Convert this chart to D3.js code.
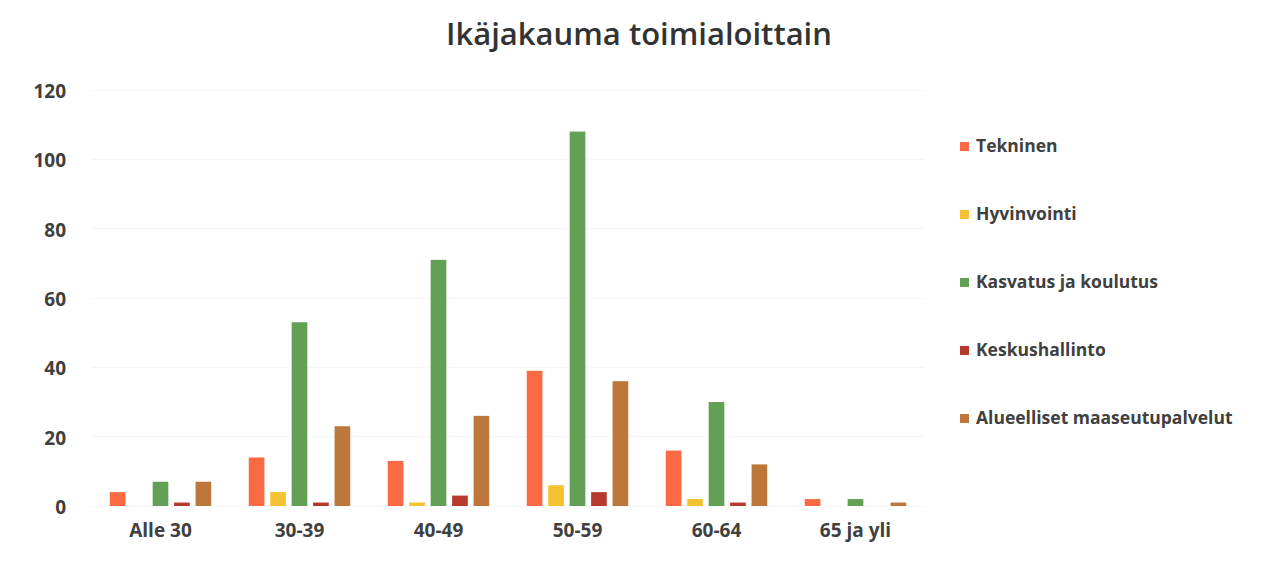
<!DOCTYPE html>
<html lang="fi">
<head>
<meta charset="UTF-8">
<title>Ikäjakauma toimialoittain</title>
<script src="https://d3js.org/d3.v7.min.js"></script>
<style>
  body { margin: 0; background: #fff; }
  svg text { font-family: "Open Sans", sans-serif; fill: #404040; }
  .tick text { font-size: 19px; font-weight: 700; }
  .legend text { font-size: 17.5px; font-weight: 700; }
  .title { font-size: 31px; font-weight: 600; fill: #333; }
</style>
</head>
<body>
<svg id="chart" width="1261" height="563"></svg>
<script>
// age groups and departments
const groups = ["Alle 30", "30-39", "40-49", "50-59", "60-64", "65 ja yli"];
const series = ["Tekninen", "Hyvinvointi", "Kasvatus ja koulutus", "Keskushallinto", "Alueelliset maaseutupalvelut"];

// values per series, in group order
const tekninen      = [4, 14, 13, 39, 16, 2];
const hyvinvointi   = [0, 4, 1, 6, 2, 0];
const kasvatus      = [7, 53, 71, 108, 30, 2];
const keskushallinto = [1, 1, 3, 4, 1, 0];
const alueelliset   = [7, 23, 26, 36, 12, 1];

const yTicks = [0, 20, 40, 60, 80, 100, 120];
const colors = ["#fb6a43", "#f5c332", "#62a055", "#b5392d", "#bd773b"];

const allValues = [tekninen, hyvinvointi, kasvatus, keskushallinto, alueelliset];

const svg = d3.select("#chart");
const plotLeft = 91, plotRight = 925, plotTop = 90, plotBottom = 506;

const x0 = d3.scaleBand().domain(groups).range([plotLeft, plotRight])
  .paddingInner(0.27).paddingOuter(0.135);
const x1 = d3.scaleBand().domain(series).range([0, x0.bandwidth()])
  .paddingInner(0.27).paddingOuter(0);
const y = d3.scaleLinear().domain([0, 120]).range([plotBottom, plotTop]);
const color = d3.scaleOrdinal().domain(series).range(colors);

svg.append("text")
  .attr("class", "title")
  .attr("x", 639).attr("y", 45)
  .attr("text-anchor", "middle")
  .text("Ikäjakauma toimialoittain");

// faint gridlines
svg.append("g")
  .selectAll("line")
  .data(yTicks)
  .join("line")
  .attr("x1", plotLeft).attr("x2", plotRight)
  .attr("y1", d => y(d)).attr("y2", d => y(d))
  .attr("stroke", "#f6f6f6");

const yAxis = svg.append("g")
  .attr("transform", `translate(${plotLeft},0)`)
  .call(d3.axisLeft(y).tickValues(yTicks).tickSize(0).tickPadding(25));
yAxis.select(".domain").remove();
yAxis.selectAll("text").attr("dy", "0.4em");

const xAxis = svg.append("g")
  .attr("transform", `translate(0,${plotBottom})`)
  .call(d3.axisBottom(x0).tickSize(0).tickPadding(18));
xAxis.select(".domain").remove();

const rows = groups.map((g, i) => ({
  group: g,
  vals: series.map((s, j) => ({ key: s, value: allValues[j][i] }))
}));

svg.append("g")
  .selectAll("g")
  .data(rows)
  .join("g")
  .attr("transform", d => `translate(${x0(d.group)},0)`)
  .selectAll("rect")
  .data(d => d.vals.filter(v => v.value > 0))
  .join("rect")
  .attr("x", d => x1(d.key))
  .attr("y", d => y(d.value))
  .attr("width", x1.bandwidth())
  .attr("height", d => y(0) - y(d.value))
  .attr("fill", d => color(d.key));

const legend = svg.append("g").attr("class", "legend")
  .selectAll("g")
  .data(series)
  .join("g")
  .attr("transform", (d, i) => `translate(960,${146 + i * 68})`);
legend.append("rect")
  .attr("x", 0).attr("y", -4).attr("width", 9).attr("height", 9)
  .attr("fill", d => color(d));
legend.append("text")
  .attr("x", 16).attr("y", 0).attr("dy", "0.35em")
  .text(d => d);
</script>
</body>
</html>
